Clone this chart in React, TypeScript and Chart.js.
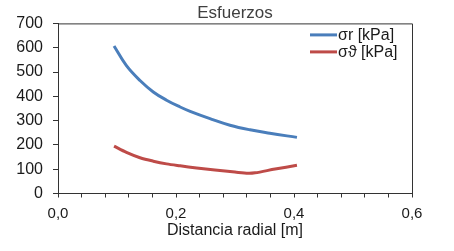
import React, { useEffect, useRef } from "react";
import { Chart, registerables } from "chart.js";

Chart.register(...registerables);

const TITLE = "Esfuerzos";
const X_TITLE = "Distancia radial [m]";
const radiusR = [0.095, 0.116, 0.139, 0.1615, 0.184, 0.207, 0.224, 0.2576, 0.2915, 0.3254, 0.359, 0.405];
const sigmaR = [607, 526, 465, 418, 384, 356, 338, 308, 281, 262, 248, 231];
const radiusT = [0.095, 0.116, 0.139, 0.1615, 0.184, 0.207, 0.235, 0.266, 0.3, 0.3226, 0.334, 0.368, 0.405];
const sigmaT = [195, 169, 147, 133, 122, 114, 105, 96.5, 88, 83, 85, 100.6, 116];
const seriesLabels = ["σr [kPa]", "σϑ [kPa]"];
const seriesColors = ["#4A7EBB", "#BE4B48"];

const FONT = "'Liberation Sans', Arial, sans-serif";
const AXIS = "#333333";
const TEXT = "#1a1a1a";

const frameAndLegend = {
  id: "frameAndLegend",
  afterDatasetsDraw(chart: any) {
    const { ctx, chartArea } = chart;
    ctx.save();
    ctx.strokeStyle = AXIS;
    ctx.lineWidth = 1;
    ctx.beginPath();
    ctx.moveTo(chartArea.left, chartArea.top + 0.5);
    ctx.lineTo(chartArea.right + 0.5, chartArea.top + 0.5);
    ctx.lineTo(chartArea.right + 0.5, chartArea.bottom);
    ctx.stroke();
    // legend
    const x0 = chartArea.right - 102;
    const y0 = chartArea.top + 11.5;
    ctx.font = "16px " + FONT;
    ctx.textBaseline = "middle";
    ctx.textAlign = "left";
    chart.data.datasets.forEach((ds: any, i: number) => {
      const y = y0 + i * 17;
      ctx.strokeStyle = ds.borderColor;
      ctx.lineWidth = 3;
      ctx.beginPath();
      ctx.moveTo(x0, y);
      ctx.lineTo(x0 + 27, y);
      ctx.stroke();
      ctx.fillStyle = TEXT;
      ctx.fillText(ds.label, x0 + 28, y + 0.5);
    });
    ctx.restore();
  },
};

export default function App() {
  const ref = useRef<HTMLCanvasElement>(null);
  useEffect(() => {
    if (!ref.current) return;
    const mk = (xs: number[], vals: number[]) => xs.map((r, i) => ({ x: r, y: vals[i] }));
    const chart = new Chart(ref.current, {
      type: "scatter",
      data: {
        datasets: [
          {
            label: seriesLabels[0],
            data: mk(radiusR, sigmaR),
            showLine: true,
            borderColor: seriesColors[0],
            backgroundColor: seriesColors[0],
            borderWidth: 3,
            pointRadius: 0,
            tension: 0.4,
          },
          {
            label: seriesLabels[1],
            data: mk(radiusT, sigmaT),
            showLine: true,
            borderColor: seriesColors[1],
            backgroundColor: seriesColors[1],
            borderWidth: 3,
            pointRadius: 0,
            tension: 0.3,
          },
        ] as any,
      },
      options: {
        responsive: false,
        animation: false,
        devicePixelRatio: 1,
        layout: { padding: { left: 16, right: 42, top: 0, bottom: 12 } },
        plugins: {
          legend: { display: false },
          tooltip: { enabled: false },
          title: {
            display: true,
            text: TITLE,
            fullSize: false,
            color: "#404040",
            font: { family: FONT, size: 17, lineHeight: 1.2, weight: "normal" },
            padding: { top: 3, bottom: 0 },
          },
        },
        scales: {
          x: {
            type: "linear",
            min: 0,
            max: 0.6,
            afterFit: (s: any) => {
              s.height = 45.5;
            },
            border: { display: true, color: AXIS, width: 1 },
            grid: { display: true, drawOnChartArea: false, drawTicks: true, tickLength: 4, color: AXIS },
            ticks: {
              stepSize: 0.04,
              autoSkip: false,
              maxRotation: 0,
              padding: 9,
              color: TEXT,
              font: { family: FONT, size: 15, lineHeight: 1 },
              callback: (v: any) => {
                const n = Number(v);
                if (Math.abs(n * 5 - Math.round(n * 5)) < 1e-6) return n.toFixed(1).replace(".", ",");
                return "";
              },
            },
            title: {
              display: true,
              text: X_TITLE,
              color: TEXT,
              font: { family: FONT, size: 16, lineHeight: 1.1 },
              padding: { top: 0, bottom: 0 },
            },
          },
          y: {
            type: "linear",
            min: 0,
            max: 700,
            afterFit: (s: any) => {
              s.width = 42;
            },
            border: { display: true, color: AXIS, width: 1 },
            grid: { display: true, drawOnChartArea: false, drawTicks: true, tickLength: 5, color: AXIS },
            ticks: {
              stepSize: 100,
              padding: 10,
              color: TEXT,
              font: { family: FONT, size: 16, lineHeight: 1 },
            },
          },
        },
      },
      plugins: [frameAndLegend],
    });
    return () => chart.destroy();
  }, []);
  return (
    <div style={{ position: "absolute", left: 0, top: 0, width: 454, height: 251, background: "#fff" }}>
      <canvas ref={ref} width={454} height={251} style={{ display: "block" }} />
    </div>
  );
}
